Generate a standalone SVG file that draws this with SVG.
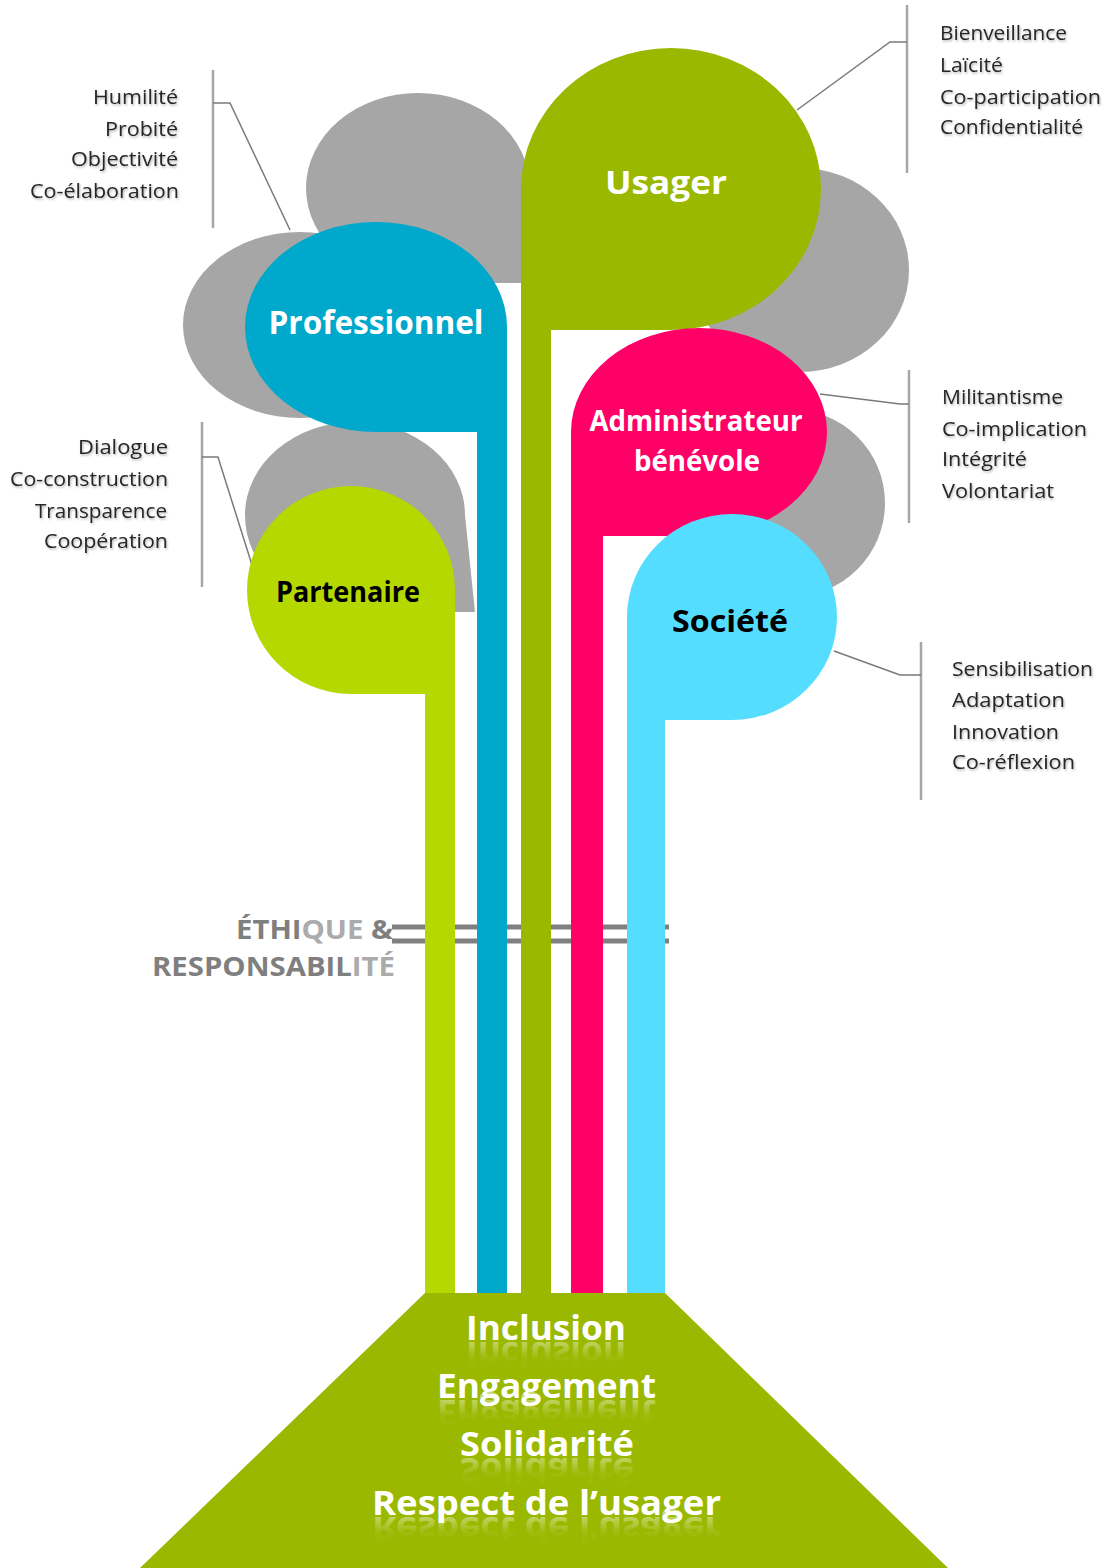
<svg xmlns="http://www.w3.org/2000/svg" width="1111" height="1568" viewBox="0 0 1111 1568">
  <defs>
    <style>
      .leaf { fill: #A6A6A6; }
      .lbl { font-family: "Open Sans", "Noto Sans", "DejaVu Sans", sans-serif; font-size: 20px; fill: #262626; filter: url(#soft); }
      .end { text-anchor: end; }
      .node { font-family: "Open Sans", "Noto Sans", "DejaVu Sans", sans-serif; font-weight: 700; text-anchor: middle; }
      .val { font-family: "Open Sans", "Noto Sans", "DejaVu Sans", sans-serif; font-weight: 700; font-size: 34px; text-anchor: middle; fill: #FFFFFF; }
      .refl { fill: url(#fade); }
      .bracket { fill: none; stroke: #A6A6A6; stroke-width: 2.5; }
      .lead { fill: none; stroke: #7A7A7A; stroke-width: 1.5; }
      .eth { font-family: "Open Sans", "Noto Sans", "DejaVu Sans", sans-serif; font-weight: 700; font-size: 27px; fill: #7F7F7F; }
      .ethlite { fill: #ABABAB; }
    </style>
    <filter id="soft" x="-10%" y="-30%" width="120%" height="160%">
      <feDropShadow dx="1" dy="1.5" stdDeviation="1" flood-color="#000" flood-opacity="0.3"/>
    </filter>
    <linearGradient id="fade" x1="0" y1="0" x2="0" y2="1">
      <stop offset="0" stop-color="#FFFFFF" stop-opacity="0"/>
      <stop offset="0.45" stop-color="#FFFFFF" stop-opacity="0.05"/>
      <stop offset="1" stop-color="#FFFFFF" stop-opacity="0.6"/>
    </linearGradient>
  </defs>

  <rect width="1111" height="1568" fill="#FFFFFF"/>

  <!-- grey leaves behind the coloured heads -->
  <g id="leaves">
    <path class="leaf" d="M306,188 A112 95 0 0 1 530,188 L530,283 L418,283 A112 95 0 0 1 306,188 Z"/>
    <ellipse class="leaf" cx="300" cy="325" rx="117" ry="93"/>
    <path class="leaf" d="M245,515 A110 93 0 0 1 465,515 L475,612 L355,612 A110 97 0 0 1 245,515 Z"/>
    <ellipse class="leaf" cx="800" cy="270" rx="109" ry="102"/>
    <ellipse class="leaf" cx="790" cy="503" rx="95" ry="94"/>
  </g>

  <!-- Ethique & responsabilite: double bar running behind the stems -->
  <g id="ethique">
    <rect x="392" y="924.5" width="277" height="5" fill="#808080"/>
    <rect x="392" y="938.5" width="277" height="5" fill="#808080"/>
    <text class="eth" x="393" y="939" text-anchor="end" textLength="157" lengthAdjust="spacingAndGlyphs">ÉTHI<tspan class="ethlite">QUE</tspan> &amp;</text>
    <text class="eth" x="152" y="976" textLength="243" lengthAdjust="spacingAndGlyphs">RESPONSABIL<tspan class="ethlite">ITÉ</tspan></text>
  </g>

  <!-- connectors: brackets and leader lines to each head -->
  <g id="connectors">
    <path class="bracket" d="M213,70 V228"/>
    <path class="lead" d="M213,103 H230 L290,230"/>
    <path class="bracket" d="M202,422 V587"/>
    <path class="lead" d="M202,457 H218 L257,581"/>
    <path class="bracket" d="M907,5 V173"/>
    <path class="lead" d="M907,42 H890 L797,110"/>
    <path class="bracket" d="M909,370 V523"/>
    <path class="lead" d="M909,404 H900 L820,394"/>
    <path class="bracket" d="M921,642 V800"/>
    <path class="lead" d="M921,675 H900 L834,651"/>
  </g>

  <g id="usager">
    <path fill="#9AB800" d="M521,189 A150 141 0 0 1 821,189 A150 141 0 0 1 671,330 L551,330 L551,1293 L521,1293 Z"/>
    <text class="node" x="666" y="194" font-size="33" fill="#FFFFFF" textLength="122" lengthAdjust="spacingAndGlyphs">Usager</text>
  </g>

  <g id="professionnel">
    <path fill="#00A8CC" d="M507,327 L507,1293 L477,1293 L477,432 L376,432 A131 105 0 0 1 245,327 A131 105 0 0 1 507,327 Z"/>
    <text class="node" x="376" y="334" font-size="32" fill="#FFFFFF" textLength="215" lengthAdjust="spacingAndGlyphs">Professionnel</text>
  </g>

  <g id="administrateur">
    <path fill="#FF0066" d="M571,432 A128 104 0 0 1 827,432 A128 104 0 0 1 699,536 L603,536 L603,1293 L571,1293 Z"/>
    <text class="node" x="696" y="431" font-size="29" fill="#FFFFFF" textLength="213" lengthAdjust="spacingAndGlyphs">Administrateur</text>
    <text class="node" x="697" y="471" font-size="29" fill="#FFFFFF" textLength="126" lengthAdjust="spacingAndGlyphs">bénévole</text>
  </g>

  <g id="partenaire">
    <path fill="#B5D800" d="M455,590 L455,1293 L425,1293 L425,694 L351,694 A104 104 0 0 1 247,590 A104 104 0 0 1 455,590 Z"/>
    <text class="node" x="348" y="602" font-size="28" fill="#000000" textLength="144" lengthAdjust="spacingAndGlyphs">Partenaire</text>
  </g>

  <g id="societe">
    <path fill="#55DDFF" d="M627,617 A105 103 0 0 1 837,617 A105 103 0 0 1 732,720 L665,720 L665,1293 L627,1293 Z"/>
    <text class="node" x="730" y="632" font-size="31" fill="#000000" textLength="116" lengthAdjust="spacingAndGlyphs">Société</text>
  </g>

  <!-- base: shared values with reflections -->
  <g id="valeurs">
    <path fill="#9AB800" d="M425,1293 L665,1293 L948,1568 L140,1568 Z"/>
    <text class="val" x="546" y="1340" textLength="160" lengthAdjust="spacingAndGlyphs">Inclusion</text>
    <text class="val refl" x="546" y="1340" textLength="160" lengthAdjust="spacingAndGlyphs" transform="translate(0,2682) scale(1,-1)">Inclusion</text>
    <text class="val" x="546.5" y="1398" textLength="219" lengthAdjust="spacingAndGlyphs">Engagement</text>
    <text class="val refl" x="546.5" y="1398" textLength="219" lengthAdjust="spacingAndGlyphs" transform="translate(0,2798) scale(1,-1)">Engagement</text>
    <text class="val" x="547" y="1456" textLength="174" lengthAdjust="spacingAndGlyphs">Solidarité</text>
    <text class="val refl" x="547" y="1456" textLength="174" lengthAdjust="spacingAndGlyphs" transform="translate(0,2914) scale(1,-1)">Solidarité</text>
    <text class="val" x="546.5" y="1515" textLength="349" lengthAdjust="spacingAndGlyphs">Respect de l’usager</text>
    <text class="val refl" x="546.5" y="1515" textLength="349" lengthAdjust="spacingAndGlyphs" transform="translate(0,3032) scale(1,-1)">Respect de l’usager</text>
  </g>

  <!-- value lists -->
  <g id="liste-professionnel">
    <text class="lbl end" x="178" y="104" textLength="85" lengthAdjust="spacingAndGlyphs">Humilité</text>
    <text class="lbl end" x="178" y="136" textLength="73" lengthAdjust="spacingAndGlyphs">Probité</text>
    <text class="lbl end" x="178" y="166" textLength="107" lengthAdjust="spacingAndGlyphs">Objectivité</text>
    <text class="lbl end" x="179" y="198" textLength="149" lengthAdjust="spacingAndGlyphs">Co-élaboration</text>
  </g>
  <g id="liste-partenaire">
    <text class="lbl end" x="168" y="454" textLength="90" lengthAdjust="spacingAndGlyphs">Dialogue</text>
    <text class="lbl end" x="168" y="486" textLength="158" lengthAdjust="spacingAndGlyphs">Co-construction</text>
    <text class="lbl end" x="167" y="518" textLength="132" lengthAdjust="spacingAndGlyphs">Transparence</text>
    <text class="lbl end" x="168" y="548" textLength="124" lengthAdjust="spacingAndGlyphs">Coopération</text>
  </g>
  <g id="liste-usager">
    <text class="lbl" x="940" y="40" textLength="127" lengthAdjust="spacingAndGlyphs">Bienveillance</text>
    <text class="lbl" x="940" y="72" textLength="63" lengthAdjust="spacingAndGlyphs">Laïcité</text>
    <text class="lbl" x="940" y="104" textLength="161" lengthAdjust="spacingAndGlyphs">Co-participation</text>
    <text class="lbl" x="940" y="134" textLength="143" lengthAdjust="spacingAndGlyphs">Confidentialité</text>
  </g>
  <g id="liste-administrateur">
    <text class="lbl" x="942" y="404" textLength="121" lengthAdjust="spacingAndGlyphs">Militantisme</text>
    <text class="lbl" x="942" y="436" textLength="145" lengthAdjust="spacingAndGlyphs">Co-implication</text>
    <text class="lbl" x="942" y="466" textLength="85" lengthAdjust="spacingAndGlyphs">Intégrité</text>
    <text class="lbl" x="942" y="498" textLength="112" lengthAdjust="spacingAndGlyphs">Volontariat</text>
  </g>
  <g id="liste-societe">
    <text class="lbl" x="952" y="676" textLength="141" lengthAdjust="spacingAndGlyphs">Sensibilisation</text>
    <text class="lbl" x="952" y="707" textLength="113" lengthAdjust="spacingAndGlyphs">Adaptation</text>
    <text class="lbl" x="952" y="739" textLength="107" lengthAdjust="spacingAndGlyphs">Innovation</text>
    <text class="lbl" x="952" y="769" textLength="123" lengthAdjust="spacingAndGlyphs">Co-réflexion</text>
  </g>
</svg>
